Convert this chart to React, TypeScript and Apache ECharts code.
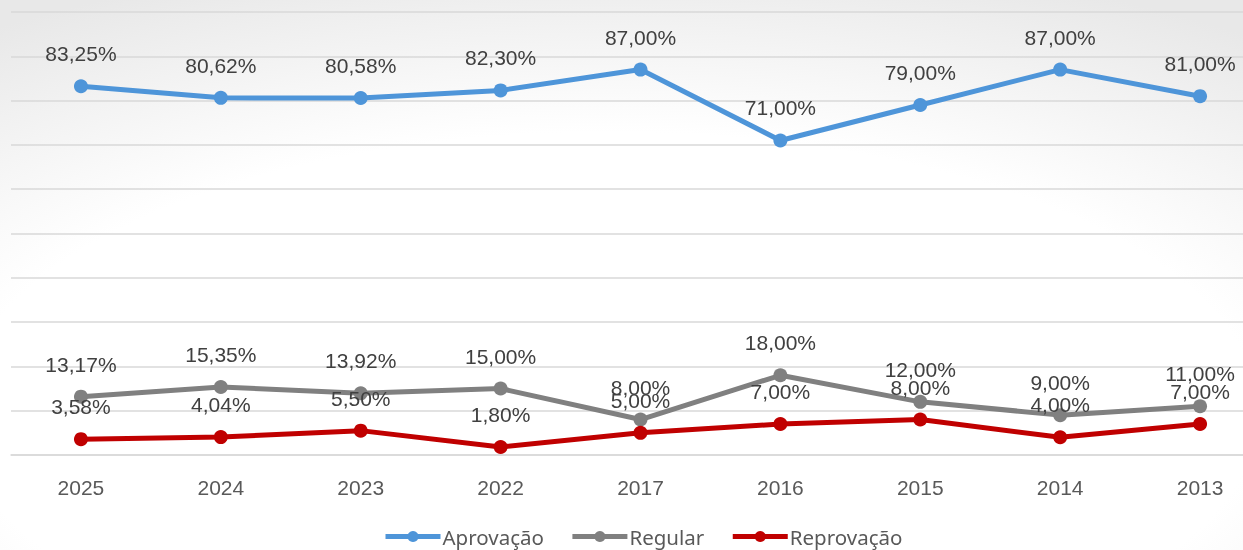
import React, { useEffect, useRef } from "react";
import * as echarts from "echarts";

const categories = ["2025", "2024", "2023", "2022", "2017", "2016", "2015", "2014", "2013"];
const aprovacao = [83.25, 80.62, 80.58, 82.3, 87.0, 71.0, 79.0, 87.0, 81.0];
const regular = [13.17, 15.35, 13.92, 15.0, 8.0, 18.0, 12.0, 9.0, 11.0];
const reprovacao = [3.58, 4.04, 5.5, 1.8, 5.0, 7.0, 8.0, 4.0, 7.0];

const fmt = (p: any) => Number(p.value).toFixed(2).replace(".", ",") + "%";

function mkSeries(name: string, data: number[], color: string) {
  return {
    name,
    type: "line",
    data,
    symbol: "circle",
    symbolSize: 14,
    lineStyle: { color, width: 5 },
    itemStyle: { color },
    label: {
      show: true,
      position: "top",
      distance: 15,
      formatter: fmt,
      color: "#404040",
      fontSize: 21,
      fontFamily: "Liberation Sans",
    },
  };
}

export default function App() {
  const ref = useRef<HTMLDivElement>(null);
  useEffect(() => {
    const chart = echarts.init(ref.current!, null, { renderer: "svg" });
    chart.setOption({
      animation: false,
      backgroundColor: {
        type: "radial",
        x: 0.48,
        y: 0.75,
        r: 0.85,
        colorStops: [
          { offset: 0, color: "#ffffff" },
          { offset: 0.6, color: "#ffffff" },
          { offset: 1, color: "#e8e8e8" },
        ],
      },
      grid: { left: 11, right: 0, top: 12, bottom: 95, containLabel: false },
      xAxis: {
        type: "category",
        data: categories,
        boundaryGap: true,
        axisLine: { show: true, lineStyle: { color: "#d9d9d9", width: 1.5 } },
        axisTick: { show: false },
        axisLabel: {
          color: "#595959",
          fontSize: 21,
          fontFamily: "Liberation Sans",
          margin: 22,
        },
      },
      yAxis: {
        type: "value",
        min: 0,
        max: 100,
        interval: 10,
        axisLabel: { show: false },
        axisLine: { show: false },
        axisTick: { show: false },
        splitLine: { show: true, lineStyle: { color: "#d9d9d9", width: 1.5 } },
      },
      legend: {
        left: 378,
        top: 521,
        itemWidth: 55,
        itemHeight: 14,
        itemGap: 26,
        lineStyle: { width: 5 },
        textStyle: { color: "#595959", fontSize: 20.5, fontFamily: "Noto Sans", padding: [0, 0, 0, -3] },
        data: ["Aprovação", "Regular", "Reprovação"],
      },
      series: [
        mkSeries("Aprovação", aprovacao, "#4E95D9"),
        mkSeries("Regular", regular, "#808080"),
        mkSeries("Reprovação", reprovacao, "#C00000"),
      ],
    });
    return () => chart.dispose();
  }, []);
  return (
    <div style={{ position: "fixed", left: 0, top: 0, width: 1243, height: 550, overflow: "hidden" }}>
      <div ref={ref} style={{ width: 1270, height: 550 }} />
    </div>
  );
}
